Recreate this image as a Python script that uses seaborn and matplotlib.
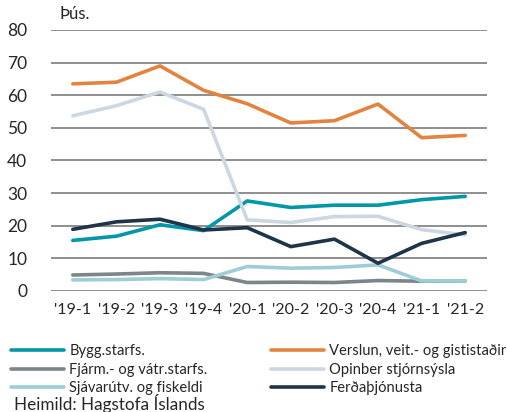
import pandas as pd
import matplotlib.pyplot as plt
import seaborn as sns

quarters = ["'19-1", "'19-2", "'19-3", "'19-4", "'20-1", "'20-2", "'20-3", "'20-4", "'21-1", "'21-2"]

bygg = [15.5, 16.8, 20.3, 18.5, 27.6, 25.6, 26.3, 26.3, 28.0, 29.0]
verslun = [63.5, 64.0, 69.0, 61.5, 57.4, 51.5, 52.2, 57.3, 47.0, 47.7]
fjarm = [4.9, 5.2, 5.6, 5.4, 2.6, 2.7, 2.6, 3.2, 3.0, 3.1]
opinber = [53.7, 56.8, 61.0, 55.7, 21.8, 21.0, 22.8, 22.9, 18.8, 17.2]
sjavar = [3.4, 3.5, 3.8, 3.5, 7.5, 7.0, 7.2, 8.0, 3.1, 3.1]
ferda = [18.9, 21.2, 22.0, 18.7, 19.4, 13.6, 15.9, 8.5, 14.6, 17.9]

names = ["Bygg.starfs.", "Verslun, veit.- og gististaðir", "Fjárm.- og vátr.starfs.",
         "Opinber stjórnsýsla", "Sjávarútv. og fiskeldi", "Ferðaþjónusta"]
colors = ["#0098A8", "#E2843F", "#7C8589", "#CCD7E2", "#9ECDD6", "#1E3449"]

rows = []
for name, vals in zip(names, [bygg, verslun, fjarm, opinber, sjavar, ferda]):
    for q, v in zip(quarters, vals):
        rows.append({"quarter": q, "value": v, "series": name})
df = pd.DataFrame(rows)

sns.set_style("white")
plt.rcParams['font.family'] = ['Lato', 'DejaVu Sans']

fig = plt.figure(figsize=(5.07, 4.12), dpi=100)
ax = fig.add_axes([0.1006, 0.2937, 0.86, 0.6335])

sns.lineplot(data=df, x="quarter", y="value", hue="series", palette=colors,
             linewidth=2.6, sort=False, ax=ax, legend=True)

ax.set_ylim(0, 80)
ax.set_xlim(-0.5, 9.5)
ax.set_yticks(range(0, 81, 10))
ax.yaxis.grid(True, color="#8E8E8E", linewidth=1.4)
ax.set_axisbelow(True)
for s in ax.spines.values():
    s.set_visible(False)
ax.set_xlabel("")
ax.set_ylabel("")
ax.tick_params(axis="y", length=0, labelsize=12.5, pad=17)
ax.tick_params(axis="x", length=0, labelsize=11.5, pad=9)

handles, labels = ax.get_legend_handles_labels()
ax.get_legend().remove()
leg_kw = dict(loc="upper left", frameon=False, fontsize=10.6, handlelength=3.6,
              handletextpad=0.35, labelspacing=0.3, borderaxespad=0, borderpad=0)
leg1 = fig.legend([handles[i] for i in [0, 2, 4]], [labels[i] for i in [0, 2, 4]],
                  bbox_to_anchor=(0.022, 0.164), **leg_kw)
leg2 = fig.legend([handles[i] for i in [1, 3, 5]], [labels[i] for i in [1, 3, 5]],
                  bbox_to_anchor=(0.535, 0.164), **leg_kw)

fig.text(0.118, 0.953, "Þús.", fontsize=12)
fig.text(0.027, 0.005, "Heimild: Hagstofa Íslands", fontsize=12.3)

fig.savefig("out.png", dpi=100)
